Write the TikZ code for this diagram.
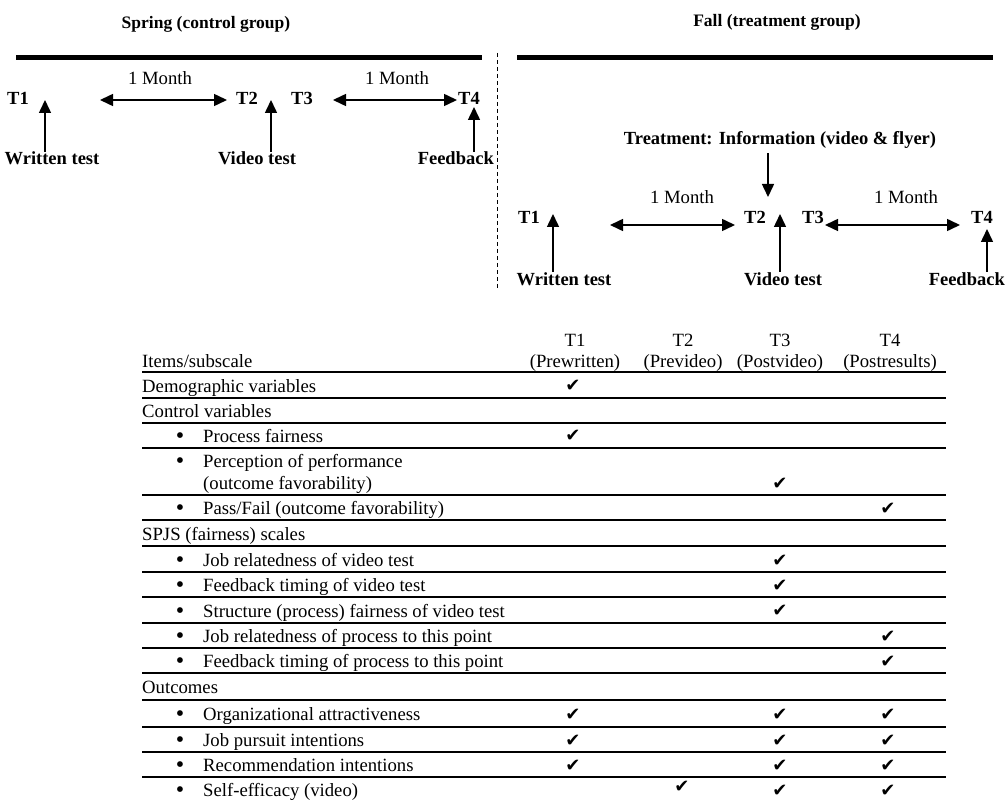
\documentclass[tikz,border=0pt]{standalone}
\usepackage{fontspec}
\setmainfont{Liberation Serif}
\newfontfamily\symfont{DejaVu Sans}
\usetikzlibrary{arrows.meta}
\begin{document}
\begin{tikzpicture}[x=1pt,y=-1pt,
  hd/.style={font=\bfseries\fontsize{17.5}{20}\selectfont, inner sep=0pt, anchor=base},
  bl/.style={font=\bfseries\fontsize{18.5}{20}\selectfont, inner sep=0pt, anchor=base},
  rg/.style={font=\fontsize{18.7}{20}\selectfont, inner sep=0pt, anchor=base},
  rw/.style={font=\fontsize{18.7}{20}\selectfont, inner sep=0pt, anchor=base west},
  bu/.style={font=\fontsize{24}{24}\selectfont, inner sep=0pt, anchor=base},
  ck/.style={font=\symfont\fontsize{18}{18}\selectfont, inner sep=0pt, anchor=base},
  arr/.style={-{Triangle[length=13pt,width=12pt]}, line width=1.5pt},
  dbl/.style={{Triangle[length=13pt,width=12pt]}-{Triangle[length=13pt,width=12pt]}, line width=1.5pt},
  thickline/.style={line width=5pt},
  rule/.style={line width=1.3pt},
  sep/.style={line width=0.9pt, dash pattern=on 4pt off 3pt}]
\useasboundingbox (0,0) rectangle (1006,802);

% ---------- headings ----------
\node[hd] (spring) at (206,29) {Spring (control group)};
\node[hd] (fall) at (777,27) {Fall (treatment group)};
\draw[thickline] (16,58) -- (482,58);
\draw[thickline] (517,58) -- (993,58);
\draw[sep] (497,53) -- (497,288);

% ---------- spring timeline ----------
\node[bl] (sT1) at (18,105) {T1};
\node[bl] (sT2) at (247,105) {T2};
\node[bl] (sT3) at (302,105) {T3};
\node[bl] (sT4) at (469,105) {T4};
\node[rg] (sM1) at (160,85) {1 Month};
\node[rg] (sM2) at (397,85) {1 Month};
\node[bl] (sWT) at (52,165) {Written test};
\node[bl] (sVT) at (257,165) {Video test};
\node[bl, anchor=base east] (sFB) at (494,165) {Feedback};
\coordinate (sa1) at (45,100);
\coordinate (sa2) at (271,100);
\coordinate (sa4) at (474,107);
\draw[arr] (sWT.north -| sa1) -- (sa1);
\draw[arr] (sVT.north -| sa2) -- (sa2);
\draw[arr] (sFB.north -| sa4) -- (sa4);
\coordinate (sd1a) at (100,100);
\coordinate (sd1b) at (227,100);
\coordinate (sd2a) at (333,100);
\coordinate (sd2b) at (457,100);
\draw[dbl] (sd1a) -- (sd1b);
\draw[dbl] (sd2a) -- (sd2b);

% ---------- fall timeline ----------
\node[bl] (treat) at (780,145) {Treatment: Information (video \& flyer)};
\node[bl] (fT1) at (529,224) {T1};
\node[bl] (fT2) at (755,224) {T2};
\node[bl] (fT3) at (813,224) {T3};
\node[bl] (fT4) at (982,224) {T4};
\node[rg] (fM1) at (682,204) {1 Month};
\node[rg] (fM2) at (906,204) {1 Month};
\node[bl] (fWT) at (564,285) {Written test};
\node[bl] (fVT) at (783,285) {Video test};
\node[bl, anchor=base east] (fFB) at (1005,285) {Feedback};
\coordinate (ft) at (768,197);
\draw[arr] (treat.south -| ft) ++(0,4) -- (ft);
\coordinate (fa1) at (553,214);
\coordinate (fa2) at (780,214);
\coordinate (fa4) at (987,229);
\draw[arr] (fWT.north -| fa1) -- (fa1);
\draw[arr] (fVT.north -| fa2) -- (fa2);
\draw[arr] (fFB.north -| fa4) -- (fa4);
\coordinate (fd1a) at (610,225);
\coordinate (fd1b) at (735,225);
\coordinate (fd2a) at (825,225);
\coordinate (fd2b) at (960,225);
\draw[dbl] (fd1a) -- (fd1b);
\draw[dbl] (fd2a) -- (fd2b);

% ---------- table ----------
\node[rg] (h1a) at (575,346) {T1};
\node[rg] (h2a) at (683,346) {T2};
\node[rg] (h3a) at (780,346) {T3};
\node[rg] (h4a) at (890,346) {T4};
\node[rg] (h1b) at (575,367) {(Prewritten)};
\node[rg] (h2b) at (683,367) {(Prevideo)};
\node[rg] (h3b) at (780,367) {(Postvideo)};
\node[rg] (h4b) at (890,367) {(Postresults)};
\node[rw] (items) at (142,367) {Items/subscale};

\foreach \y in {372,398,423,448,495,520,546,572,597,623,648,673,700,727,752,777}
  \draw[rule] (142,\y) -- (946,\y);

% row labels
\node[rw] (r1) at (142,392) {Demographic variables};
\node[rw] (r2) at (142,417) {Control variables};
\node[rw] (r3) at (203,442) {Process fairness};
\node[rw] (r4) at (203,467) {Perception of performance};
\node[rw] (r4b) at (203,489) {(outcome favorability)};
\node[rw] (r5) at (203,514) {Pass/Fail (outcome favorability)};
\node[rw] (r6) at (142,540) {SPJS (fairness) scales};
\node[rw] (r7) at (203,566) {Job relatedness of video test};
\node[rw] (r8) at (203,591) {Feedback timing of video test};
\node[rw] (r9) at (203,617) {Structure (process) fairness of video test};
\node[rw] (r10) at (203,642) {Job relatedness of process to this point};
\node[rw] (r11) at (203,667) {Feedback timing of process to this point};
\node[rw] (r12) at (142,693) {Outcomes};
\node[rw] (r13) at (203,720) {Organizational attractiveness};
\node[rw] (r14) at (203,746) {Job pursuit intentions};
\node[rw] (r15) at (203,771) {Recommendation intentions};
\node[rw] (r16) at (203,796) {Self-efficacy (video)};

% bullets
\foreach \n/\y in {b3/442,b4/467,b5/514,b7/566,b8/591,b9/617,b10/642,b11/667,b13/720,b14/746,b15/771,b16/796}
  \node[bu] (\n) at (180,\y+1) {•};

% checks
\node[ck] (c1a) at (573,391) {✔};
\node[ck] (c3a) at (573,441) {✔};
\node[ck] (c4c) at (780,489) {✔};
\node[ck] (c5d) at (888,514) {✔};
\node[ck] (c7c) at (780,566) {✔};
\node[ck] (c8c) at (780,591) {✔};
\node[ck] (c9c) at (780,616) {✔};
\node[ck] (c10d) at (888,642) {✔};
\node[ck] (c11d) at (888,667) {✔};
\node[ck] (c13a) at (573,720) {✔};
\node[ck] (c13c) at (780,720) {✔};
\node[ck] (c13d) at (888,720) {✔};
\node[ck] (c14a) at (573,746) {✔};
\node[ck] (c14c) at (780,746) {✔};
\node[ck] (c14d) at (888,746) {✔};
\node[ck] (c15a) at (573,771) {✔};
\node[ck] (c15c) at (780,771) {✔};
\node[ck] (c15d) at (888,771) {✔};
\node[ck] (c16b) at (682,792) {✔};
\node[ck] (c16c) at (780,796) {✔};
\node[ck] (c16d) at (888,796) {✔};
\end{tikzpicture}
\end{document}
